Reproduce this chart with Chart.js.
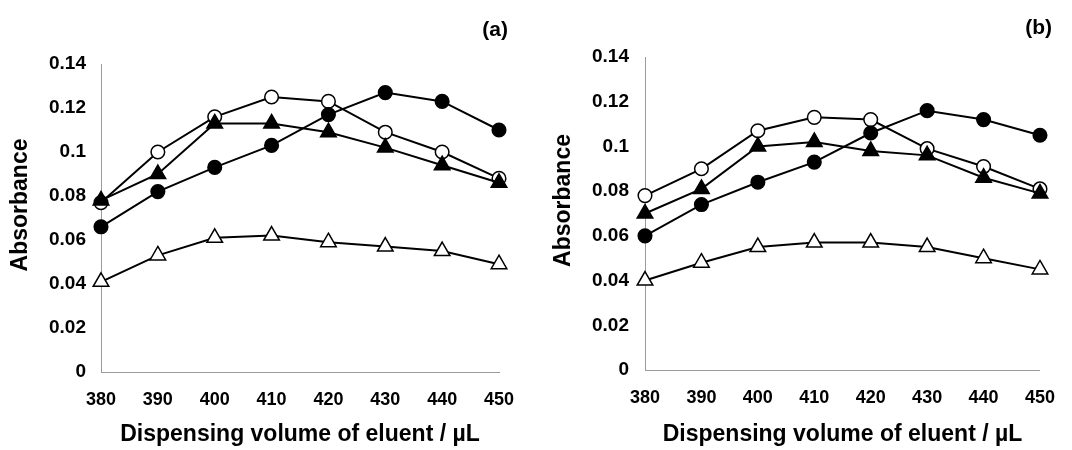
<!DOCTYPE html>
<html>
<head>
<meta charset="utf-8">
<script src="https://cdn.jsdelivr.net/npm/chart.js@4/dist/chart.umd.min.js"></script>
<style>
  html, body { margin: 0; padding: 0; background: #fff; }
  #wrap { position: relative; width: 1072px; height: 450px; background: #fff; }
  .panel { position: absolute; top: 0; height: 450px; }
</style>
</head>
<body>
<div id="wrap">
  <div class="panel" style="left:0;width:540px;"><canvas id="chartA"></canvas></div>
  <div class="panel" style="left:540px;width:532px;"><canvas id="chartB"></canvas></div>
</div>
<script>
// ---- data ----
const volumes = [380, 390, 400, 410, 420, 430, 440, 450];
const yTicks = [0, 0.02, 0.04, 0.06, 0.08, 0.1, 0.12, 0.14];

const aOpenCircle   = [0.077, 0.100, 0.116, 0.125, 0.123, 0.109, 0.100, 0.088];
const aFilledTri    = [0.078, 0.090, 0.113, 0.113, 0.109, 0.102, 0.094, 0.086];
const aFilledCircle = [0.066, 0.082, 0.093, 0.103, 0.117, 0.127, 0.123, 0.110];
const aOpenTri      = [0.041, 0.053, 0.061, 0.062, 0.059, 0.057, 0.055, 0.049];

const bOpenCircle   = [0.078, 0.090, 0.107, 0.113, 0.112, 0.099, 0.091, 0.081];
const bFilledTri    = [0.070, 0.081, 0.100, 0.102, 0.098, 0.096, 0.086, 0.079];
const bFilledCircle = [0.060, 0.074, 0.084, 0.093, 0.106, 0.116, 0.112, 0.105];
const bOpenTri      = [0.040, 0.048, 0.055, 0.057, 0.057, 0.055, 0.050, 0.045];

const panelA = '(a)';
const panelB = '(b)';
const xTitle = 'Dispensing volume of eluent / µL';
const yTitle = 'Absorbance';

// ---- helpers ----
const FONT = "'Liberation Sans', Arial, sans-serif";

const panelText = {
  id: 'panelText',
  afterDraw(chart, args, opts) {
    const ctx = chart.ctx;
    const ca = chart.chartArea;
    ctx.save();
    ctx.fillStyle = '#000';
    // panel label
    ctx.font = 'bold ' + opts.labelSize + 'px ' + FONT;
    ctx.textAlign = 'right';
    ctx.textBaseline = 'middle';
    ctx.fillText(opts.label, ca.right + opts.labelDx, opts.labelY);
    // y-axis title
    ctx.font = 'bold ' + opts.yTitleSize + 'px ' + FONT;
    ctx.translate(opts.yTitleX, (ca.top + ca.bottom) / 2 + opts.yTitleDy);
    ctx.rotate(-Math.PI / 2);
    ctx.textAlign = 'center';
    ctx.textBaseline = 'middle';
    ctx.fillText(opts.yTitle, 0, 0);
    ctx.restore();
  }
};

function series(values, style, filled, radius) {
  return {
    data: values.map((v, i) => ({ x: volumes[i], y: v })),
    borderColor: '#000',
    borderWidth: 2,
    pointStyle: style,
    pointRadius: radius,
    pointBorderWidth: 1.5,
    pointBorderColor: '#000',
    pointBackgroundColor: filled ? '#000' : '#fff',
    tension: 0,
    fill: false,
    clip: false
  };
}

function makeChart(id, sets, geom) {
  const ctx = document.getElementById(id);
  return new Chart(ctx, {
    type: 'line',
    data: {
      datasets: [
        series(sets[3], 'triangle', false, 9),
        series(sets[2], 'circle', true, 6.8),
        series(sets[1], 'triangle', true, 9),
        series(sets[0], 'circle', false, 6.8)
      ]
    },
    options: {
      responsive: true,
      maintainAspectRatio: false,
      animation: false,
      layout: { padding: { top: geom.top, right: geom.right, left: 0, bottom: 0 } },
      plugins: {
        legend: { display: false },
        tooltip: { enabled: false },
        panelText: {
          label: geom.label, labelDx: geom.labelDx, labelY: geom.labelY, labelSize: 21,
          yTitle: yTitle, yTitleX: geom.yTitleX, yTitleDy: -13, yTitleSize: 23
        }
      },
      scales: {
        x: {
          type: 'linear',
          min: volumes[0],
          max: volumes[volumes.length - 1],
          afterBuildTicks: s => { s.ticks = volumes.map(v => ({ value: v })); },
          afterFit: s => { s.height = geom.xHeight; },
          grid: { color: 'rgba(0,0,0,0)', drawTicks: false },
          border: { display: true, color: '#9a9a9a', width: 1, dash: [1, 2] },
          ticks: { color: '#000', padding: 17, font: { family: FONT, size: 18, weight: 'bold' } },
          title: {
            display: true, text: xTitle, color: '#000',
            font: { family: FONT, size: 23, weight: 'bold', lineHeight: 1.2 },
            padding: { top: 0, bottom: 2 }
          }
        },
        y: {
          type: 'linear',
          min: 0,
          max: 0.14,
          afterBuildTicks: s => { s.ticks = yTicks.map(v => ({ value: v })); },
          afterFit: s => { s.width = geom.yWidth; },
          grid: { color: 'rgba(0,0,0,0)', drawTicks: false },
          border: { display: true, color: '#9a9a9a', width: 1, dash: [1, 2] },
          ticks: {
            color: '#000', padding: geom.yPad,
            font: { family: FONT, size: 19, weight: 'bold' },
            callback: v => String(Math.round(v * 100) / 100)
          },
          title: { display: false }
        }
      }
    },
    plugins: [panelText]
  });
}

makeChart('chartA', [aOpenCircle, aFilledTri, aFilledCircle, aOpenTri], {
  top: 64, right: 41, xHeight: 78, yWidth: 101, yPad: 15, yTitleX: 21,
  label: panelA, labelDx: 9, labelY: 30
});
makeChart('chartB', [bOpenCircle, bFilledTri, bFilledCircle, bOpenTri], {
  top: 57, right: 27, xHeight: 80, yWidth: 105, yPad: 16, yTitleX: 24,
  label: panelB, labelDx: 12, labelY: 28
});
</script>
</body>
</html>
